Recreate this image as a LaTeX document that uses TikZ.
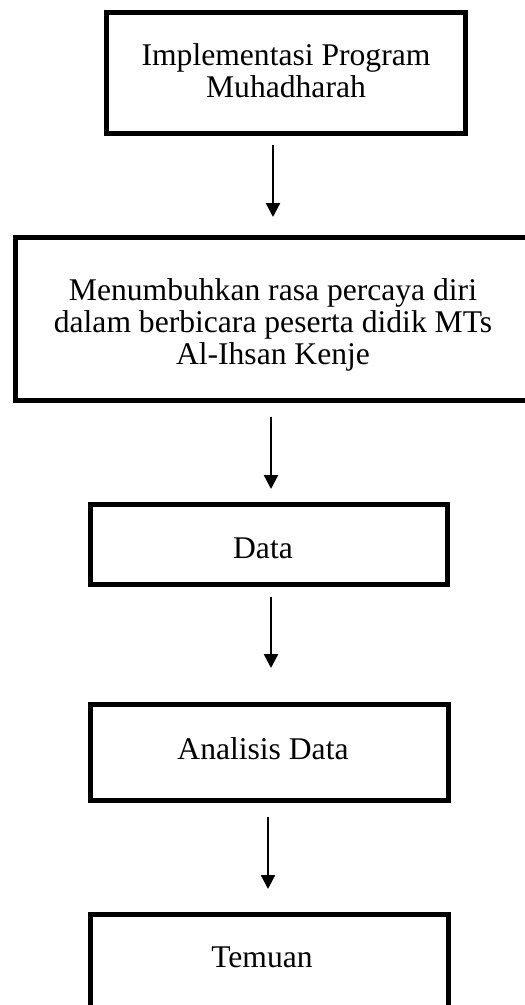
\documentclass[tikz,border=0pt]{standalone}
\usepackage{fontspec}
\setmainfont{Liberation Serif}
\usetikzlibrary{arrows.meta}
\begin{document}
\begin{tikzpicture}[x=1pt,y=-1pt,
  boxnode/.style={draw=black,line width=5pt,rectangle,inner sep=0pt},
  txt/.style={font=\fontsize{31.6}{32}\selectfont,align=center,inner sep=0pt},
  arr/.style={line width=2.4pt,-{Triangle[length=14pt,width=14pt]}}]
\useasboundingbox (0,0) rectangle (525,1005);
% boxes
\node[boxnode,minimum width=359pt,minimum height=121pt] (b1) at (286,73) {};
\node[boxnode,minimum width=516.5pt,minimum height=162.5pt] (b2) at (273.75,318.75) {};
\node[boxnode,minimum width=357.5pt,minimum height=80pt] (b3) at (268.75,544.5) {};
\node[boxnode,minimum width=358pt,minimum height=96pt] (b4) at (269,752.5) {};
\node[boxnode,minimum width=358pt,minimum height=110pt] (b5) at (269,969.5) {};
% texts
\node[txt] (t1) at (286,70.5) {Implementasi Program\\Muhadharah};
\node[txt] (t2) at (273,325) {Menumbuhkan rasa percaya diri\\dalam berbicara peserta didik MTs\\Al-Ihsan Kenje};
\node[txt] (t3) at (263,548.5) {Data};
\node[txt] (t4) at (263,748.2) {Analisis Data};
\node[txt] (t5) at (262,957.5) {Temuan};
% arrow columns
\coordinate (c1) at (273,0);
\coordinate (c2) at (271,0);
\coordinate (c3) at (271,0);
\coordinate (c4) at (268,0);
\draw[arr,shorten <=9pt,shorten >=18pt] (b1.south -| c1) -- (b2.north -| c1);
\draw[arr,shorten <=14pt,shorten >=13pt] (b2.south -| c2) -- (b3.north -| c2);
\draw[arr,shorten <=10pt,shorten >=34pt] (b3.south -| c3) -- (b4.north -| c3);
\draw[arr,shorten <=14pt,shorten >=23pt] (b4.south -| c4) -- (b5.north -| c4);
\end{tikzpicture}
\end{document}
